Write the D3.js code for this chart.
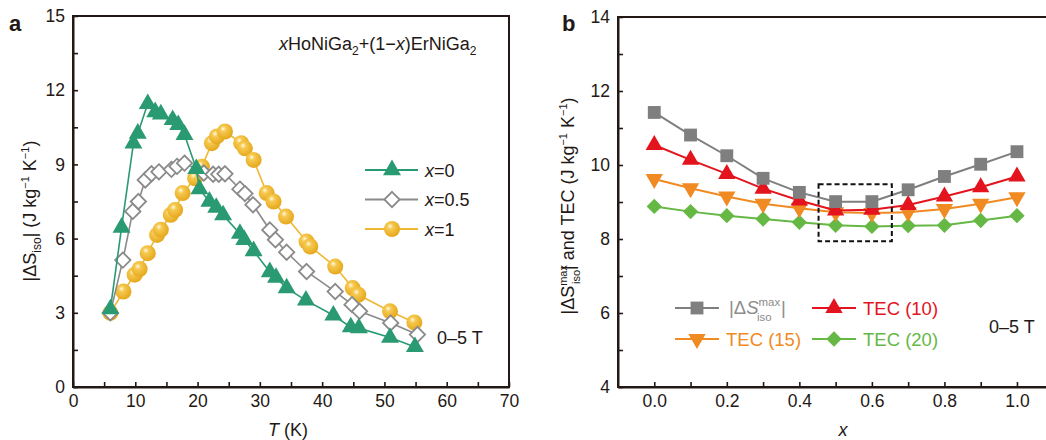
<!DOCTYPE html>
<html>
<head>
<meta charset="utf-8">
<script src="https://cdn.jsdelivr.net/npm/d3@7"></script>
<style>
  body { margin: 0; background: #fff; }
  svg { font-family: "Liberation Sans", Arial, sans-serif; }
</style>
</head>
<body>
<div id="chart"></div>
<script>
// ---- panel a: |dS_iso| vs T ----
const tX0 = [6.0, 7.8, 9.7, 10.4, 12.0, 13.2, 14.1, 16.0, 16.9, 17.9, 19.8, 20.3, 21.9, 23.0, 24.1, 26.8, 27.5, 29.0, 31.6, 32.6, 34.3, 37.4, 41.8, 44.6, 45.9, 50.9, 54.9];
const sX0 = [3.15, 6.45, 9.85, 10.25, 11.45, 11.12, 11.03, 10.8, 10.6, 10.2, 8.82, 8.0, 7.5, 7.25, 6.95, 6.2, 5.95, 5.5, 4.65, 4.42, 4.0, 3.5, 2.9, 2.42, 2.38, 2.0, 1.62];

const tX05 = [6.0, 8.0, 9.6, 10.5, 11.6, 12.6, 13.8, 15.8, 16.7, 17.9, 21.0, 22.5, 23.4, 24.4, 26.8, 27.6, 28.9, 31.6, 32.5, 34.3, 37.5, 42.1, 44.8, 46.0, 51.0, 55.3];
const sX05 = [3.0, 5.13, 7.1, 7.5, 8.37, 8.62, 8.7, 8.8, 8.92, 9.05, 8.65, 8.6, 8.6, 8.62, 8.0, 7.82, 7.37, 6.35, 5.95, 5.45, 4.67, 3.86, 3.33, 3.06, 2.59, 2.12];

const tX1 = [6.0, 8.1, 9.9, 10.7, 12.0, 13.5, 14.1, 15.7, 16.4, 17.6, 19.6, 20.7, 22.3, 23.1, 24.4, 27.0, 27.6, 29.0, 31.1, 32.2, 34.2, 37.5, 38.1, 42.1, 44.9, 45.8, 50.9, 54.8];
const sX1 = [3.0, 3.86, 4.54, 4.77, 5.41, 6.15, 6.36, 6.96, 7.16, 7.84, 8.44, 8.91, 9.86, 10.13, 10.33, 9.86, 9.65, 9.18, 7.84, 7.5, 6.89, 5.88, 5.68, 4.87, 4.0, 3.73, 3.06, 2.61];

// ---- panel b: values vs composition x ----
const compX = [0.0, 0.1, 0.2, 0.3, 0.4, 0.5, 0.6, 0.7, 0.8, 0.9, 1.0];
const dsMax = [11.42, 10.81, 10.25, 9.64, 9.26, 9.01, 9.01, 9.33, 9.69, 10.02, 10.36];
const tec10 = [10.54, 10.14, 9.76, 9.36, 9.04, 8.77, 8.79, 8.92, 9.15, 9.40, 9.69];
const tec15 = [9.62, 9.37, 9.15, 8.95, 8.83, 8.72, 8.70, 8.72, 8.81, 8.95, 9.13];
const tec20 = [8.88, 8.74, 8.63, 8.54, 8.45, 8.37, 8.34, 8.36, 8.37, 8.50, 8.63];
const boxX = [0.453, 0.655];
const boxY = [7.94, 9.48];

const width = 1046, height = 440;
const axisColor = "#231815";

const svg = d3.select("#chart").append("svg")
  .attr("width", width)
  .attr("height", height);

// glossy ball gradient for x=1
const defs = svg.append("defs");
const grad = defs.append("radialGradient").attr("id", "ball")
  .attr("cx", "40%").attr("cy", "38%").attr("r", "60%")
  .attr("fx", "38%").attr("fy", "32%");
grad.append("stop").attr("offset", "0%").attr("stop-color", "#fffbe8");
grad.append("stop").attr("offset", "30%").attr("stop-color", "#f6c94f");
grad.append("stop").attr("offset", "100%").attr("stop-color", "#e6a91f");

const sym = (type, size) => d3.symbol().type(type).size(size)();

// helper for axis drawing with inward ticks
function styleAxis(g) {
  g.select(".domain").attr("stroke", axisColor).attr("stroke-width", 2);
  g.selectAll(".tick line").attr("stroke", axisColor).attr("stroke-width", 1.6);
  g.selectAll(".tick text").attr("fill", axisColor).style("font-size", "17.5px")
    .style("font-family", "'Liberation Sans', Arial, sans-serif");
}

// ================= PANEL A =================
const aLeft = 73, aRight = 509, aTop = 16, aBottom = 387;
const xA = d3.scaleLinear().domain([0, 70]).range([aLeft, aRight]);
const yA = d3.scaleLinear().domain([0, 15]).range([aBottom, aTop]);

svg.append("rect")
  .attr("x", aLeft).attr("y", aTop)
  .attr("width", aRight - aLeft).attr("height", aBottom - aTop)
  .attr("fill", "none").attr("stroke", axisColor).attr("stroke-width", 2);

svg.append("g")
  .attr("transform", `translate(0,${aBottom})`)
  .call(d3.axisBottom(xA).tickValues(d3.range(0, 71, 5))
    .tickFormat(d => d % 10 === 0 ? d : "")
    .tickSizeInner(-5).tickSizeOuter(0).tickPadding(8))
  .call(styleAxis);

svg.append("g")
  .attr("transform", `translate(${aLeft},0)`)
  .call(d3.axisLeft(yA).tickValues(d3.range(0, 15.1, 1.5))
    .tickFormat(d => d % 3 === 0 ? d : "")
    .tickSizeInner(-5).tickSizeOuter(0).tickPadding(8))
  .call(styleAxis);

const seriesA = [
  { t: tX1, s: sX1, color: "#f0b732", kind: "ball", label: "=1" },
  { t: tX05, s: sX05, color: "#8a8a8a", kind: "diamond", label: "=0.5" },
  { t: tX0, s: sX0, color: "#2a9a72", kind: "tri", label: "=0" }
];

function drawMarkerA(g, kind, color) {
  if (kind === "ball") {
    g.append("circle").attr("r", 8).attr("fill", "url(#ball)");
  } else if (kind === "diamond") {
    g.append("path").attr("d", sym(d3.symbolDiamond2, 150))
      .attr("fill", "#fff").attr("stroke", color).attr("stroke-width", 1.8);
  } else {
    g.append("path").attr("d", sym(d3.symbolTriangle, 140)).attr("fill", color);
  }
}

const lineA = d3.line().x(d => xA(d[0])).y(d => yA(d[1]));
seriesA.forEach(sr => {
  const pts = d3.zip(sr.t, sr.s);
  svg.append("path").datum(pts)
    .attr("d", lineA).attr("fill", "none")
    .attr("stroke", sr.color).attr("stroke-width", 1.6);
  svg.append("g").selectAll("g").data(pts).join("g")
    .attr("transform", d => `translate(${xA(d[0])},${yA(d[1])})`)
    .each(function () { drawMarkerA(d3.select(this), sr.kind, sr.color); });
});

// legend a
const legA = [seriesA[2], seriesA[1], seriesA[0]];
legA.forEach((sr, i) => {
  const y = 170 + i * 29.5;
  svg.append("line").attr("x1", 365).attr("x2", 418).attr("y1", y).attr("y2", y)
    .attr("stroke", sr.color).attr("stroke-width", 1.8);
  const g = svg.append("g").attr("transform", `translate(392,${y})`);
  drawMarkerA(g, sr.kind, sr.color);
  const t = svg.append("text").attr("x", 425).attr("y", y + 6.5)
    .style("font-size", "18px").attr("fill", "#231815");
  t.append("tspan").style("font-style", "italic").text("x");
  t.append("tspan").text(sr.label);
});

// title a
const ttl = svg.append("text").attr("x", 279).attr("y", 50)
  .style("font-size", "18px").attr("fill", "#231815");
ttl.append("tspan").style("font-style", "italic").text("x");
ttl.append("tspan").text("HoNiGa");
ttl.append("tspan").attr("dy", 5).style("font-size", "12px").text("2");
ttl.append("tspan").attr("dy", -5).text("+(1−");
ttl.append("tspan").style("font-style", "italic").text("x");
ttl.append("tspan").text(")ErNiGa");
ttl.append("tspan").attr("dy", 5).style("font-size", "12px").text("2");

svg.append("text").attr("x", 437).attr("y", 344)
  .style("font-size", "18px").attr("fill", "#231815").text("0–5 T");

// axis titles a
const xtA = svg.append("text").attr("x", 288).attr("y", 436)
  .attr("text-anchor", "middle").style("font-size", "18px").attr("fill", "#231815");
xtA.append("tspan").style("font-style", "italic").text("T");
xtA.append("tspan").text(" (K)");

const ytA = svg.append("text")
  .attr("transform", "translate(36,211) rotate(-90)")
  .attr("text-anchor", "middle").style("font-size", "18px").attr("fill", "#231815");
ytA.append("tspan").text("|ΔS");
ytA.append("tspan").attr("dy", 5).style("font-size", "12px").text("iso");
ytA.append("tspan").attr("dy", -5).text("| (J kg");
ytA.append("tspan").attr("dy", -7).style("font-size", "11px").text("−1");
ytA.append("tspan").attr("dy", 7).text(" K");
ytA.append("tspan").attr("dy", -7).style("font-size", "11px").text("−1");
ytA.append("tspan").attr("dy", 7).text(")");

svg.append("text").attr("x", 9).attr("y", 31)
  .style("font-size", "22px").style("font-weight", "bold").attr("fill", "#231815").text("a");

// ================= PANEL B =================
const bLeft = 618, bTop = 17, bBottom = 387;
const xB = d3.scaleLinear().domain([-0.1, 1.1]).range([bLeft, bLeft + 1.2 * 362.7]);
const yB = d3.scaleLinear().domain([4, 14]).range([bBottom, bTop]);

svg.append("rect")
  .attr("x", bLeft).attr("y", bTop)
  .attr("width", xB(1.1) - bLeft).attr("height", bBottom - bTop)
  .attr("fill", "none").attr("stroke", axisColor).attr("stroke-width", 2);

svg.append("g")
  .attr("transform", `translate(0,${bBottom})`)
  .call(d3.axisBottom(xB).tickValues(compX)
    .tickFormat((d, i) => i % 2 === 0 ? d3.format(".1f")(d) : "")
    .tickSizeInner(-5).tickSizeOuter(0).tickPadding(8))
  .call(styleAxis);

svg.append("g")
  .attr("transform", `translate(${bLeft},0)`)
  .call(d3.axisLeft(yB).tickValues(d3.range(4, 14.1, 1))
    .tickFormat(d => d % 2 === 0 ? d : "")
    .tickSizeInner(-5).tickSizeOuter(0).tickPadding(8))
  .call(styleAxis);

const seriesB = [
  { v: tec20, color: "#66b845", kind: "diamond" },
  { v: tec15, color: "#f08a22", kind: "down" },
  { v: tec10, color: "#e3141e", kind: "up" },
  { v: dsMax, color: "#7f7f7f", kind: "square" }
];

function drawMarkerB(g, kind, color) {
  let p;
  if (kind === "square") p = g.append("path").attr("d", sym(d3.symbolSquare, 165));
  else if (kind === "up") p = g.append("path").attr("d", sym(d3.symbolTriangle, 130));
  else if (kind === "down") p = g.append("path").attr("d", sym(d3.symbolTriangle, 130)).attr("transform", "rotate(180)");
  else p = g.append("path").attr("d", sym(d3.symbolDiamond2, 150));
  p.attr("fill", color);
}

const lineB = d3.line().x(d => xB(d[0])).y(d => yB(d[1]));
seriesB.forEach(sr => {
  const pts = d3.zip(compX, sr.v);
  svg.append("path").datum(pts)
    .attr("d", lineB).attr("fill", "none")
    .attr("stroke", sr.color).attr("stroke-width", 2);
  svg.append("g").selectAll("g").data(pts).join("g")
    .attr("transform", d => `translate(${xB(d[0])},${yB(d[1])})`)
    .each(function () { drawMarkerB(d3.select(this), sr.kind, sr.color); });
});

// dashed box
svg.append("rect")
  .attr("x", xB(boxX[0])).attr("y", yB(boxY[1]))
  .attr("width", xB(boxX[1]) - xB(boxX[0])).attr("height", yB(boxY[0]) - yB(boxY[1]))
  .attr("fill", "none").attr("stroke", "#111").attr("stroke-width", 2)
  .attr("stroke-dasharray", "5,3");

// legend b
const legB = [
  { sr: seriesB[3], x: 675, y: 308 },
  { sr: seriesB[2], x: 812, y: 308, text: "TEC (10)" },
  { sr: seriesB[1], x: 675, y: 339, text: "TEC (15)" },
  { sr: seriesB[0], x: 812, y: 339, text: "TEC (20)" }
];
legB.forEach(e => {
  svg.append("line").attr("x1", e.x).attr("x2", e.x + 44).attr("y1", e.y).attr("y2", e.y)
    .attr("stroke", e.sr.color).attr("stroke-width", 2.2);
  const g = svg.append("g").attr("transform", `translate(${e.x + 22},${e.y})`);
  drawMarkerB(g, e.sr.kind, e.sr.color);
  if (e.text) {
    svg.append("text").attr("x", e.x + 51).attr("y", e.y + 6.5)
      .style("font-size", "18.5px").attr("fill", e.sr.color).text(e.text);
  }
});
const lt = svg.append("text").attr("x", 729).attr("y", 314)
  .style("font-size", "18.5px").attr("fill", "#8c8c8c");
lt.append("tspan").text("|Δ");
lt.append("tspan").style("font-style", "italic").text("S");
lt.append("tspan").attr("dy", -8).style("font-size", "11.5px").text("max");
lt.append("tspan").attr("x", 757).attr("dy", 15).style("font-size", "11.5px").text("iso");
lt.append("tspan").attr("x", 781).attr("dy", -7).text("|");

svg.append("text").attr("x", 989).attr("y", 333)
  .style("font-size", "18px").attr("fill", "#231815").text("0–5 T");

// axis titles b
svg.append("text").attr("x", 843).attr("y", 436)
  .attr("text-anchor", "middle").style("font-size", "18px").style("font-style", "italic")
  .attr("fill", "#231815").text("x");

const ytB = svg.append("text")
  .attr("transform", "translate(574,206) rotate(-90)")
  .attr("text-anchor", "middle").style("font-size", "18px").attr("fill", "#231815");
ytB.append("tspan").text("|ΔS");
ytB.append("tspan").attr("dy", -7).style("font-size", "11px").text("max");
ytB.append("tspan").attr("dx", -19).attr("dy", 13).style("font-size", "11px").text("iso");
ytB.append("tspan").attr("dy", -6).text("| and TEC (J kg");
ytB.append("tspan").attr("dy", -7).style("font-size", "11px").text("−1");
ytB.append("tspan").attr("dy", 7).text(" K");
ytB.append("tspan").attr("dy", -7).style("font-size", "11px").text("−1");
ytB.append("tspan").attr("dy", 7).text(")");

svg.append("text").attr("x", 562).attr("y", 31)
  .style("font-size", "22px").style("font-weight", "bold").attr("fill", "#231815").text("b");
</script>
</body>
</html>
